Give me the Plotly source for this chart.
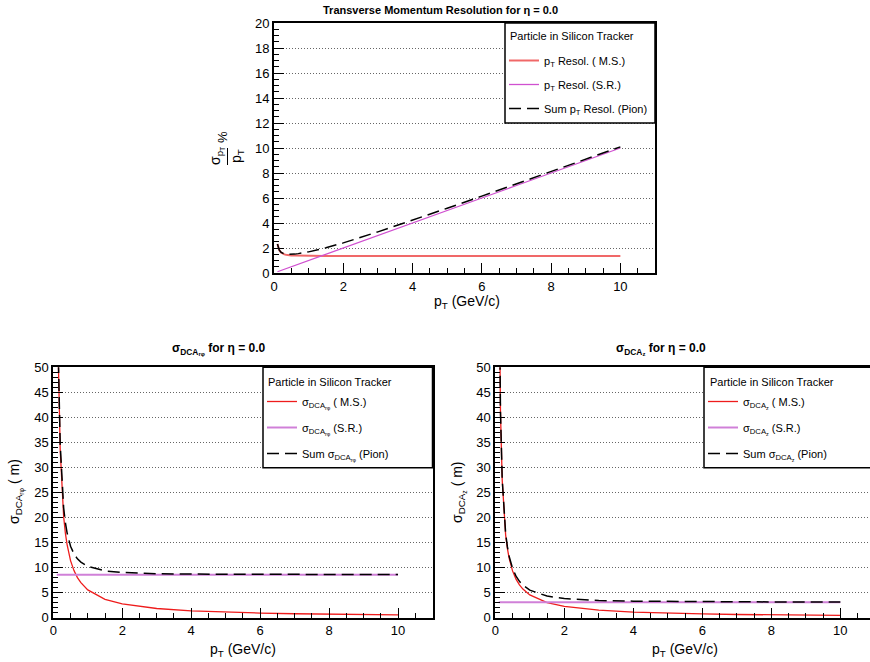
import plotly.graph_objects as go

# ---- data -------------------------------------------------------------
pt = [0.1, 0.12, 0.15, 0.2, 0.25, 0.3, 0.35, 0.4, 0.5, 0.6, 0.7, 0.8, 1.0,
      1.5, 2, 3, 4, 5, 6, 7, 8, 9, 10]

# transverse momentum resolution, sigma_pT / pT in %
res_pt_ms = [2.32, 2.07, 1.84, 1.65, 1.55, 1.49, 1.46, 1.43, 1.40, 1.39, 1.38,
             1.37, 1.36, 1.355, 1.35, 1.35, 1.35, 1.35, 1.35, 1.35, 1.35, 1.35, 1.35]
res_pt_sr = [0.1, 0.12, 0.15, 0.2, 0.25, 0.3, 0.35, 0.4, 0.5, 0.6, 0.7, 0.8, 1.0,
             1.5, 2, 3, 4, 5, 6, 7, 8, 9, 10]
res_pt_sum = [2.32, 2.07, 1.85, 1.66, 1.57, 1.52, 1.50, 1.49, 1.49, 1.51, 1.55,
              1.59, 1.69, 2.02, 2.41, 3.29, 4.22, 5.18, 6.15, 7.13, 8.11, 9.10, 10.09]

# DCA r-phi resolution (um)
dca_rphi_ms = [94, 70.3, 50, 33.6, 25.2, 20.2, 16.9, 14.6, 11.4, 9.4, 8.0, 7.0,
               5.55, 3.67, 2.75, 1.84, 1.38, 1.1, 0.92, 0.79, 0.69, 0.61, 0.55]
dca_rphi_sr = [8.6] * len(pt)
dca_rphi_sum = [94.4, 70.8, 50.7, 34.7, 26.6, 21.95, 18.96, 16.94, 14.28, 12.74,
                11.75, 11.09, 10.24, 9.35, 9.03, 8.79, 8.71, 8.67, 8.65, 8.64,
                8.63, 8.62, 8.62]

# DCA z resolution (um)
dca_z_ms = [77, 57.5, 41, 27.5, 20.6, 16.5, 13.85, 11.9, 9.35, 7.7, 6.56, 5.71,
            4.54, 3.01, 2.25, 1.5, 1.13, 0.9, 0.75, 0.64, 0.56, 0.5, 0.45]
dca_z_sr = [3.1] * len(pt)
dca_z_sum = [77.06, 57.58, 41.12, 27.67, 20.83, 16.79, 14.19, 12.30, 9.85, 8.30,
             7.26, 6.50, 5.50, 4.32, 3.83, 3.44, 3.30, 3.23, 3.19, 3.17, 3.15,
             3.14, 3.13]

# ---- geometry helpers (pixel -> paper fraction) -------------------------
W, H = 870, 662


def px(x):
    return x / W


def py(y):
    return 1 - y / H


FONT = "Liberation Sans, Arial, Helvetica, sans-serif"
RED_TOP = "#f06868"
RED = "#ee1c1c"
VIOLET = "#d050d0"
VIOLET_B = "#d080d8"

SIG_RPHI = "σ<sub>DCA<sub>rφ</sub></sub>"
SIG_Z = "σ<sub>DCA<sub>z</sub></sub>"
PT = "p<sub>T</sub>"
LEG_HEAD = "Particle in Silicon Tracker"

fig = go.Figure()

dash = "12px,6px"

# top panel
fig.add_trace(go.Scatter(x=pt, y=res_pt_ms, mode="lines", xaxis="x", yaxis="y",
                         line=dict(color=RED_TOP, width=2),
                         name=f"{PT} Resol. ( M.S.)", legend="legend", legendgroup="a1"))
fig.add_trace(go.Scatter(x=pt, y=res_pt_sr, mode="lines", xaxis="x", yaxis="y",
                         line=dict(color=VIOLET, width=1.3),
                         name=f"{PT} Resol. (S.R.)", legend="legend", legendgroup="a2"))
fig.add_trace(go.Scatter(x=pt, y=res_pt_sum, mode="lines", xaxis="x", yaxis="y",
                         line=dict(color="black", width=1.5, dash=dash),
                         name=f"Sum {PT} Resol. (Pion)", legend="legend", legendgroup="a3"))

# bottom-left panel
fig.add_trace(go.Scatter(x=pt, y=dca_rphi_ms, mode="lines", xaxis="x2", yaxis="y2",
                         line=dict(color=RED, width=1.3),
                         name=f"{SIG_RPHI} ( M.S.)", legend="legend2", legendgroup="b1"))
fig.add_trace(go.Scatter(x=pt, y=dca_rphi_sr, mode="lines", xaxis="x2", yaxis="y2",
                         line=dict(color=VIOLET_B, width=2),
                         name=f"{SIG_RPHI} (S.R.)", legend="legend2", legendgroup="b2"))
fig.add_trace(go.Scatter(x=pt, y=dca_rphi_sum, mode="lines", xaxis="x2", yaxis="y2",
                         line=dict(color="black", width=1.5, dash=dash),
                         name=f"Sum {SIG_RPHI} (Pion)", legend="legend2", legendgroup="b3"))

# bottom-right panel
fig.add_trace(go.Scatter(x=pt, y=dca_z_ms, mode="lines", xaxis="x3", yaxis="y3",
                         line=dict(color=RED, width=1.3),
                         name=f"{SIG_Z} ( M.S.)", legend="legend3", legendgroup="c1"))
fig.add_trace(go.Scatter(x=pt, y=dca_z_sr, mode="lines", xaxis="x3", yaxis="y3",
                         line=dict(color=VIOLET_B, width=2),
                         name=f"{SIG_Z} (S.R.)", legend="legend3", legendgroup="c2"))
fig.add_trace(go.Scatter(x=pt, y=dca_z_sum, mode="lines", xaxis="x3", yaxis="y3",
                         line=dict(color="black", width=1.5, dash=dash),
                         name=f"Sum {SIG_Z} (Pion)", legend="legend3", legendgroup="c3"))


def xaxis(domain, rng, anchor):
    return dict(domain=domain, range=rng, anchor=anchor, dtick=2, tick0=0,
                ticks="inside", ticklen=10, tickwidth=1, tickcolor="black",
                minor=dict(dtick=0.5, ticks="inside", ticklen=5, tickcolor="black"),
                showline=True, linecolor="black", linewidth=2, mirror=True,
                showgrid=False, zeroline=False,
                tickfont=dict(family=FONT, size=13, color="black"))


def yaxis(domain, rng, anchor, dtick, mdtick):
    return dict(domain=domain, range=rng, anchor=anchor, dtick=dtick, tick0=0,
                ticks="inside", ticklen=10, tickwidth=1, tickcolor="black",
                minor=dict(dtick=mdtick, ticks="inside", ticklen=5, tickcolor="black"),
                showline=True, linecolor="black", linewidth=2, mirror=True,
                showgrid=True, gridcolor="#666666", gridwidth=1, griddash="1px,2px",
                zeroline=False,
                tickfont=dict(family=FONT, size=13, color="black"))


def legend(left, top, gap):
    return dict(x=px(left), xanchor="left", y=py(top), yanchor="top",
                bgcolor="rgba(0,0,0,0)", borderwidth=0,
                font=dict(family=FONT, size=11, color="black"),
                tracegroupgap=gap, itemwidth=30, traceorder="grouped")


ann = []


def text(t, x, y, size=14, angle=0, xanchor="center", bold=False):
    ann.append(dict(text=f"<b>{t}</b>" if bold else t, x=px(x), y=py(y),
                    xref="paper", yref="paper", showarrow=False, textangle=angle,
                    xanchor=xanchor, yanchor="middle",
                    font=dict(family=FONT, size=size, color="black")))


# panel titles
text("Transverse Momentum Resolution for η = 0.0", 440, 10, 11, bold=True)
text(f"{SIG_RPHI} for η = 0.0", 219, 349, 12, bold=True)
text(f"{SIG_Z} for η = 0.0", 661, 349, 12, bold=True)

# x-axis titles
for xc, yc in [(467, 302), (243, 650), (685, 650)]:
    text(f"{PT} (GeV/c)", xc, yc)

# y-axis titles of the DCA panels
text(f"{SIG_RPHI} ( m)", 16, 492, angle=-90)
text(f"{SIG_Z} ( m)", 458, 492, angle=-90)

# fraction-style y-axis title of the top panel
text("σ<sub>p<sub>T</sub></sub>", 216, 156, angle=-90)
text(PT, 237, 156, angle=-90)
text("%", 222, 137, 13, angle=-90)

# legend headers
text(LEG_HEAD, 508, 36, 11, xanchor="left")
text(LEG_HEAD, 266, 382, 11, xanchor="left")
text(LEG_HEAD, 708, 382, 11, xanchor="left")

shapes = [dict(type="line", xref="paper", yref="paper",
               x0=px(227.5), x1=px(227.5), y0=py(148), y1=py(165),
               line=dict(color="black", width=1))]

# legend frames
for x0, y0, x1, y1 in [(505, 23, 655, 123), (263, 367.3, 432.5, 467.7),
                       (704, 367.3, 878, 467.7)]:
    shapes.append(dict(type="rect", xref="paper", yref="paper", layer="above",
                       x0=px(x0), x1=px(x1), y0=py(y1), y1=py(y0),
                       fillcolor="white", line=dict(color="black", width=1.5)))

fig.update_layout(
    width=W, height=H,
    margin=dict(l=0, r=0, t=0, b=0, autoexpand=False),
    paper_bgcolor="white", plot_bgcolor="white",
    xaxis=xaxis([px(274), px(655)], [0, 11], "y"),
    yaxis=yaxis([py(273), py(23)], [0, 20], "x", 2, 0.5),
    xaxis2=xaxis([px(53.3), px(432.5)], [0, 11], "y2"),
    yaxis2=yaxis([py(617.7), py(367.3)], [0, 50], "x2", 5, 1),
    xaxis3=xaxis([px(495.3), 1.0], [0, 10.86], "y3"),
    yaxis3=yaxis([py(617.7), py(367.3)], [0, 50], "x3", 5, 1),
    legend=legend(504, 46, 5),
    legend2=legend(262, 387, 7),
    legend3=legend(703, 387, 7),
    annotations=ann, shapes=shapes,
    showlegend=True,
)

fig.write_html("out.html")
